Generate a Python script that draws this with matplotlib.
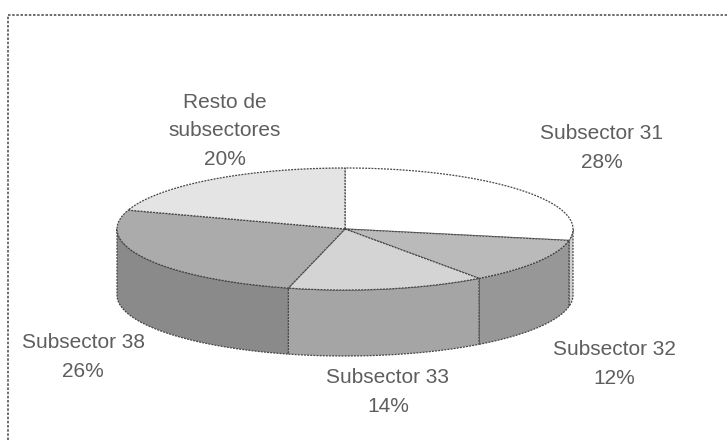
import numpy as np
import matplotlib.pyplot as plt
from matplotlib.patches import Polygon

# slice data, clockwise from 12 o'clock
labels = ["Subsector 31", "Subsector 32", "Subsector 33", "Subsector 38",
          "Resto de\nsubsectores"]
shares = [28, 12, 14, 26, 20]

top_colors = ["#ffffff", "#bababa", "#d4d4d4", "#ababab", "#e4e4e4"]
side_colors = ["#cfcfcf", "#979797", "#a5a5a5", "#8a8a8a", "#b5b5b5"]

# label anchor points (pixels)
label_pos = [(602, 148), (614, 364), (388, 392), (83, 357), (225, 131)]

W, H = 727, 440
cx, cy = 345, 229      # centre of top ellipse
rx, ry = 228, 61       # ellipse radii
depth = 66             # thickness of the disc

edge = dict(edgecolor="#444444", linewidth=0.9, linestyle=(0, (1.5, 1)))

fig = plt.figure(figsize=(W / 100, H / 100), dpi=100)
ax = fig.add_axes([0, 0, 1, 1])
ax.set_xlim(0, W)
ax.set_ylim(H, 0)
ax.axis("off")


def rim(a0, a1, dy=0.0, n=150):
    t = np.radians(np.linspace(a0, a1, n))
    return np.column_stack([cx + rx * np.cos(t), cy - ry * np.sin(t) + dy])


# slice angles (degrees, going clockwise from 90)
bounds = 90 - 360 * np.concatenate([[0], np.cumsum(shares)]) / sum(shares)

# side walls: only the front half (-180..0) is visible
for i in range(len(shares)):
    hi, lo = bounds[i], bounds[i + 1]
    lo_v, hi_v = max(lo, -180), min(hi, 0)
    if hi_v <= lo_v:
        continue
    top = rim(lo_v, hi_v)
    bot = rim(hi_v, lo_v, dy=depth)
    ax.add_patch(Polygon(np.vstack([top, bot]), closed=True,
                         facecolor=side_colors[i], zorder=2, **edge))

# top faces
for i in range(len(shares)):
    hi, lo = bounds[i], bounds[i + 1]
    pts = np.vstack([[cx, cy], rim(hi, lo)])
    ax.add_patch(Polygon(pts, closed=True, facecolor=top_colors[i],
                         zorder=3, **edge))

# labels
for lab, s, (x, y) in zip(labels, shares, label_pos):
    ax.text(x, y, f"{lab}\n{s}%", ha="center", va="center",
            fontsize=15, color="#5e5e5e", family="Liberation Sans",
            linespacing=1.65, zorder=5)

# chart frame (top and left edges visible)
ax.plot([8, 8], [H, 15], color="#555555", lw=1.2, ls=(0, (1.5, 1)),
        zorder=1)
ax.plot([8, W], [15, 15], color="#555555", lw=1.2, ls=(0, (1.5, 1)),
        zorder=1)

fig.savefig("out.png", dpi=100)
